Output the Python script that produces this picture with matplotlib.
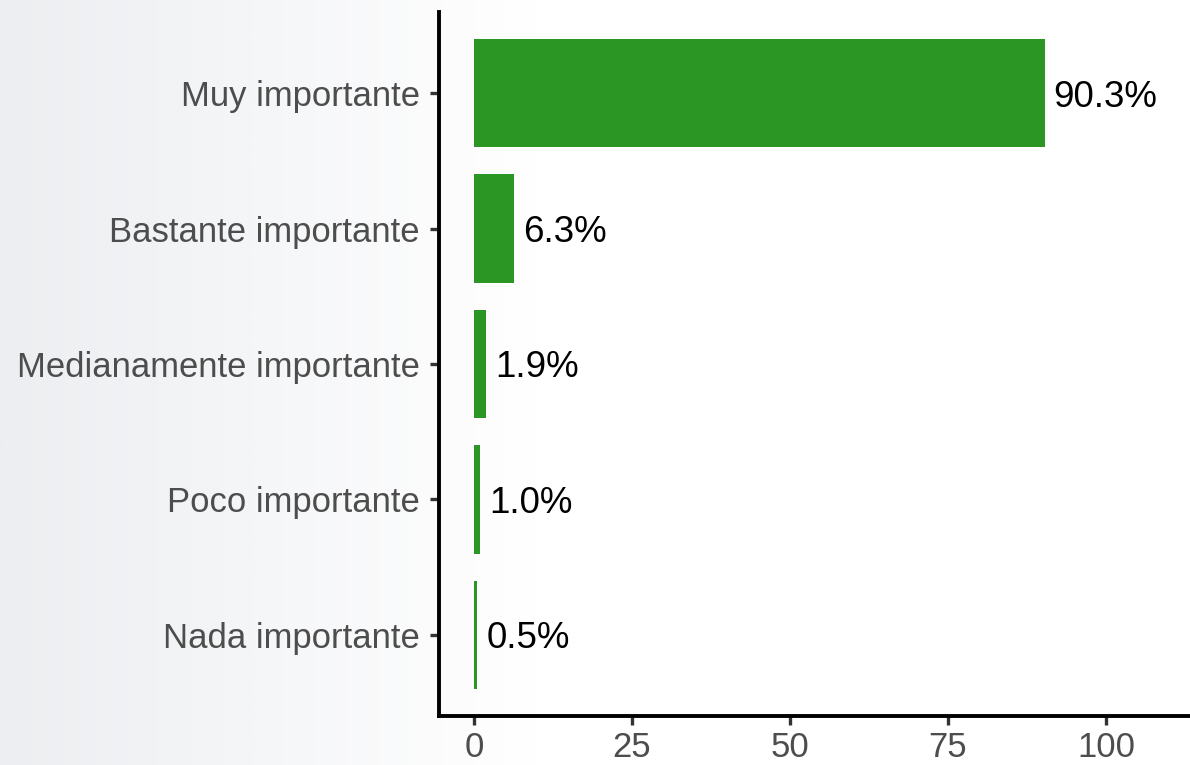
import numpy as np
import matplotlib
matplotlib.use("Agg")
import matplotlib.pyplot as plt
from matplotlib.colors import LinearSegmentedColormap

categories = ["Nada importante", "Poco importante", "Medianamente importante",
              "Bastante importante", "Muy importante"]
values = [0.5, 1.0, 1.9, 6.3, 90.3]
labels = ["0.5%", "1.0%", "1.9%", "6.3%", "90.3%"]
xticks = [0, 25, 50, 75, 100]

plt.rcParams['font.family'] = ['Liberation Sans', 'DejaVu Sans']

fig = plt.figure(figsize=(11.9, 7.65), dpi=100)
fig.patch.set_facecolor('white')

# background gradient
bg = fig.add_axes([0, 0, 1, 1], zorder=-10)
grad = np.linspace(0, 1, 512).reshape(1, -1)
cmap = LinearSegmentedColormap.from_list("bg", [(0.0, "#eceef1"), (0.45, "#ffffff"), (1.0, "#ffffff")])
bg.imshow(grad, aspect='auto', cmap=cmap, extent=[0, 1, 0, 1])
bg.set_axis_off()

ax = fig.add_axes([439/1190, 49/765, 1 - 439/1190, (716-12)/765])
ax.set_facecolor('none')
y = np.arange(1, len(categories) + 1)
ax.barh(y, values, height=0.8, color="#2b9623")
for yi, v, lab in zip(y, values, labels):
    ax.annotate(lab, (v, yi), xytext=(6.5, 0), textcoords='offset points',
                ha='left', va='center_baseline', fontsize=26.5, color='black')

ax.set_xlim(-5.54, 113.3)
ax.set_ylim(0.4, 5.6)
ax.set_yticks(y)
ax.set_yticklabels(categories)
ax.set_xticks(xticks)
ax.set_xticklabels([str(t) for t in xticks])
for s in ['top', 'right']:
    ax.spines[s].set_visible(False)
for s in ['left', 'bottom']:
    ax.spines[s].set_linewidth(2.8)
    ax.spines[s].set_color('black')
ax.tick_params(axis='both', length=6.5, width=2.4, color='#333333',
               labelcolor='#4d4d4d', labelsize=24.9)
ax.tick_params(axis='y', pad=7.5)
ax.tick_params(axis='x', pad=4.5)

fig.savefig("out.png", dpi=100)
